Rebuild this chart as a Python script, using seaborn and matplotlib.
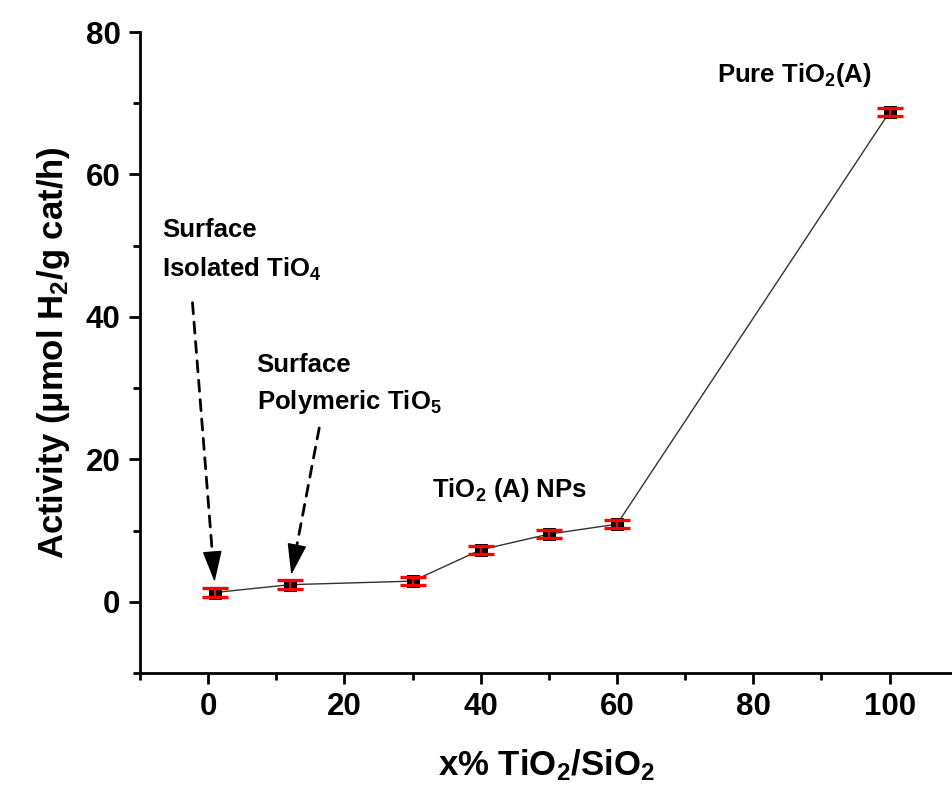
import matplotlib
matplotlib.use("Agg")
import matplotlib.pyplot as plt
import seaborn as sns
import pandas as pd
from matplotlib.ticker import MultipleLocator

# ---- data ----
x_pct = [1, 12, 30, 40, 50, 60, 100]
activity = [1.3, 2.4, 2.9, 7.3, 9.5, 10.9, 68.8]
err = [0.6, 0.6, 0.6, 0.6, 0.6, 0.6, 0.6]

xlabel = "x% TiO$_2$/SiO$_2$"
ylabel = "Activity (μmol H$_2$/g cat/h)"

sns.set_theme(style="ticks")
plt.rcParams["font.family"] = ["Liberation Sans", "DejaVu Sans"]
plt.rcParams["font.weight"] = "bold"
plt.rcParams["text.color"] = "black"
plt.rcParams["axes.labelcolor"] = "black"
plt.rcParams["xtick.color"] = "black"
plt.rcParams["ytick.color"] = "black"
plt.rcParams["mathtext.fontset"] = "custom"
plt.rcParams["mathtext.rm"] = "Liberation Sans:bold"
plt.rcParams["mathtext.it"] = "Liberation Sans:bold"
plt.rcParams["mathtext.bf"] = "Liberation Sans:bold"
plt.rcParams["mathtext.sf"] = "Liberation Sans:bold"
plt.rcParams["mathtext.default"] = "regular"

df = pd.DataFrame({"x": x_pct, "y": activity, "e": err})

fig = plt.figure(figsize=(9.53, 8.01), dpi=100)
ax = fig.add_axes([0.1469, 0.1598, 0.8531, 0.8002])

sns.lineplot(data=df, x="x", y="y", ax=ax, color="#333333", lw=1.0,
             marker="s", markersize=9, markerfacecolor="black",
             markeredgecolor="black", zorder=2)
ax.errorbar(df["x"], df["y"], yerr=df["e"], fmt="none", ecolor="red",
            elinewidth=1.5, capsize=9.5, capthick=2.4, zorder=3)

ax.set_xlim(-10, 109.3)
ax.set_ylim(-10, 80)
ax.xaxis.set_minor_locator(MultipleLocator(10))
ax.yaxis.set_minor_locator(MultipleLocator(10))
ax.set_xticks([0, 20, 40, 60, 80, 100])
ax.set_yticks([0, 20, 40, 60, 80])

for s in ["top", "right"]:
    ax.spines[s].set_visible(False)
for s in ["left", "bottom"]:
    ax.spines[s].set_linewidth(2)
    ax.spines[s].set_color("black")

ax.tick_params(which="major", direction="out", length=8, width=2,
               labelsize=22.5, color="black", pad=6)
ax.tick_params(which="minor", direction="out", length=5, width=2, color="black")
for lab in ax.get_xticklabels() + ax.get_yticklabels():
    lab.set_fontweight("bold")

ax.set_xlabel(xlabel, fontsize=25, fontweight="bold", labelpad=18)
ax.set_ylabel(ylabel, fontsize=25, fontweight="bold", labelpad=10)

fs = 18.5
ax.text(-6.8, 51.2, "Surface", fontsize=fs, fontweight="bold", va="baseline")
ax.text(-6.8, 45.6, "Isolated TiO$_4$", fontsize=fs, fontweight="bold", va="baseline")
ax.text(7.1, 32.3, "Surface", fontsize=fs, fontweight="bold", va="baseline")
ax.text(7.1, 27.0, "Polymeric TiO$_5$", fontsize=fs, fontweight="bold", va="baseline")
ax.text(32.9, 14.7, "TiO$_2$ (A) NPs", fontsize=fs, fontweight="bold", va="baseline")
ax.text(74.6, 73.0, "Pure TiO$_2$(A)", fontsize=fs, fontweight="bold", va="baseline")

# dashed shafts with solid heads
line_kw = dict(arrowstyle="-", lw=2, linestyle=(0, (4, 3)), color="black",
               shrinkA=0, shrinkB=0)
head_kw = dict(arrowstyle="-|>,head_length=0.9,head_width=0.28", lw=1,
               color="black", mutation_scale=22, shrinkA=0, shrinkB=0)
arrows = [((-2.3, 42.0), (0.95, 2.8)), ((16.3, 24.4), (12.2, 3.8))]
for (x0, y0), (x1, y1) in arrows:
    ax.annotate("", xy=(x1 - (x1 - x0) * 0.06, y1 - (y1 - y0) * 0.06),
                xytext=(x0, y0), arrowprops=line_kw)
    ax.annotate("", xy=(x1, y1),
                xytext=(x1 - (x1 - x0) * 0.08, y1 - (y1 - y0) * 0.08),
                arrowprops=head_kw)

fig.savefig("out.png", dpi=100, facecolor="white")
